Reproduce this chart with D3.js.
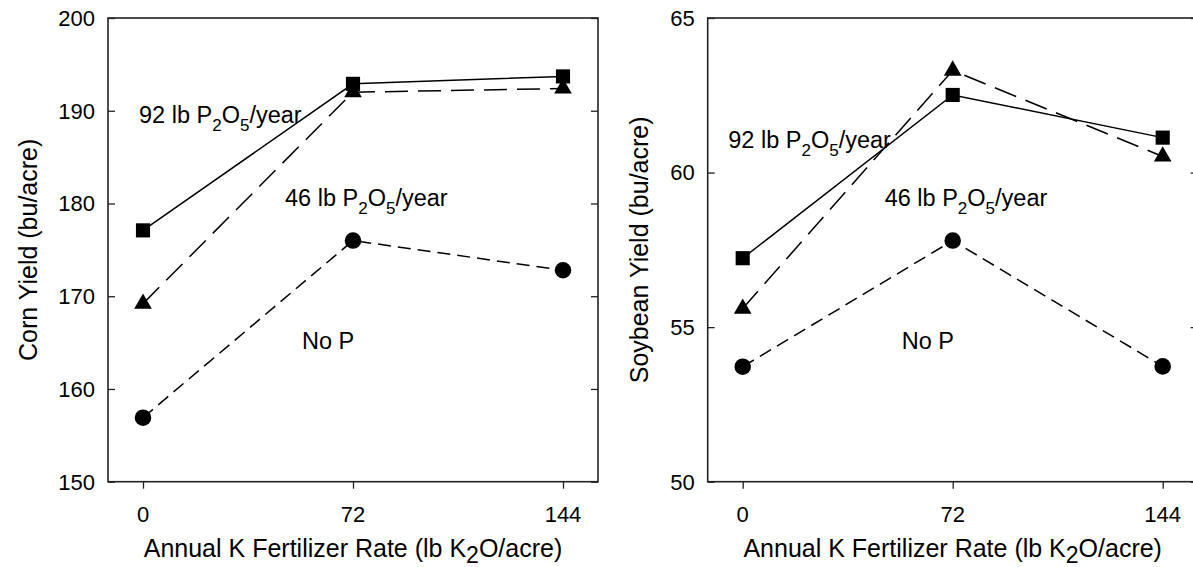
<!DOCTYPE html>
<html>
<head>
<meta charset="utf-8">
<script src="https://cdn.jsdelivr.net/npm/d3@7"></script>
<style>
  body { margin: 0; background: #fff; }
  text { font-family: "Liberation Sans", Arial, sans-serif; fill: #000; }
</style>
</head>
<body>
<svg id="chart" width="1193" height="567"></svg>
<script>
// K rates on the x axis
var kRates = [0, 72, 144];

// corn yield (bu/acre)
var corn92P = [177.1, 192.9, 193.7];
var corn46P = [169.2, 192.0, 192.4];
var cornNoP = [156.9, 176.0, 172.8];

// soybean yield (bu/acre)
var soy92P = [57.23, 62.51, 61.13];
var soy46P = [55.6, 63.3, 60.52];
var soyNoP = [53.72, 57.8, 53.73];

var cornTicks = [150, 160, 170, 180, 190, 200];
var soyTicks = [50, 55, 60, 65];

var svg = d3.select("#chart");

var plotTop = 18, plotBottom = 481.7, plotW = 490;
var tickFont = 22, titleFont = 25, noteFont = 23.5;

var seriesStyle = [
  { name: "92", symbol: d3.symbolSquare, size: 200, dash: null },
  { name: "46", symbol: d3.symbolTriangle, size: 135, dash: "23,10" },
  { name: "noP", symbol: d3.symbolCircle, size: 215, dash: "13,7" }
];

function drawPanel(left, yDomain, yTicks, series, yTitle, titleX, notes) {
  var g = svg.append("g");

  var x = d3.scaleLinear().domain([-12, 156]).range([left, left + plotW]);
  var y = d3.scaleLinear().domain(yDomain).range([plotBottom, plotTop]);

  // frame
  g.append("rect")
    .attr("x", left).attr("y", plotTop)
    .attr("width", plotW).attr("height", plotBottom - plotTop)
    .attr("fill", "none").attr("stroke", "#222").attr("stroke-width", 1.6);

  // left axis, ticks inside
  var leftAxis = g.append("g")
    .attr("transform", `translate(${left},0)`)
    .call(d3.axisRight(y).tickValues(yTicks).tickSize(7).tickFormat(""));
  leftAxis.select(".domain").remove();
  leftAxis.selectAll("line").attr("stroke", "#222").attr("stroke-width", 1.3);

  // right side ticks, inside
  var rightAxis = g.append("g")
    .attr("transform", `translate(${left + plotW},0)`)
    .call(d3.axisLeft(y).tickValues(yTicks).tickSize(7).tickFormat(""));
  rightAxis.select(".domain").remove();
  rightAxis.selectAll("line").attr("stroke", "#222").attr("stroke-width", 1.3);

  // y tick labels
  g.selectAll(".ylab")
    .data(yTicks)
    .enter()
    .append("text")
    .attr("x", left - 13)
    .attr("y", d => y(d))
    .attr("dy", "0.36em")
    .attr("text-anchor", "end")
    .style("font-size", tickFont + "px")
    .text(d => d);

  // bottom axis, ticks outside
  var bottomAxis = g.append("g")
    .attr("transform", `translate(0,${plotBottom})`)
    .call(d3.axisBottom(x).tickValues(kRates).tickSize(7).tickFormat(""));
  bottomAxis.select(".domain").remove();
  bottomAxis.selectAll("line").attr("stroke", "#222").attr("stroke-width", 1.3);

  g.selectAll(".xlab")
    .data(kRates)
    .enter()
    .append("text")
    .attr("x", d => x(d))
    .attr("y", 522)
    .attr("text-anchor", "middle")
    .style("font-size", tickFont + "px")
    .text(d => d);

  // x title
  var xt = g.append("text")
    .attr("x", x(72))
    .attr("y", 556.5)
    .attr("text-anchor", "middle")
    .style("font-size", titleFont + "px");
  xt.append("tspan").text("Annual K Fertilizer Rate (lb K");
  xt.append("tspan").attr("dy", 6).style("font-size", "23px").text("2");
  xt.append("tspan").attr("dy", -6).text("O/acre)");

  // y title
  g.append("text")
    .attr("transform", `translate(${titleX},${(plotTop + plotBottom) / 2}) rotate(-90)`)
    .attr("text-anchor", "middle")
    .style("font-size", titleFont + "px")
    .text(yTitle);

  // lines and markers
  series.forEach(function(vals, i) {
    var st = seriesStyle[i];
    var pts = kRates.map((k, j) => [k, vals[j]]);
    var line = d3.line().x(d => x(d[0])).y(d => y(d[1]));

    g.append("path")
      .attr("d", line(pts))
      .attr("fill", "none")
      .attr("stroke", "#000")
      .attr("stroke-width", 1.5)
      .attr("stroke-dasharray", st.dash);

    g.selectAll(".m" + i)
      .data(pts)
      .enter()
      .append("path")
      .attr("transform", d => `translate(${x(d[0])},${y(d[1])})`)
      .attr("d", d3.symbol().type(st.symbol).size(st.size))
      .attr("fill", "#000");
  });

  // annotations
  notes.forEach(function(n) {
    var t = g.append("text")
      .attr("x", left + n.dx)
      .attr("y", n.y)
      .style("font-size", noteFont + "px");
    if (n.p) {
      t.append("tspan").text(n.p + " lb P");
      t.append("tspan").attr("dy", 8).style("font-size", "17px").text("2");
      t.append("tspan").attr("dy", -8).text("O");
      t.append("tspan").attr("dy", 8).style("font-size", "17px").text("5");
      t.append("tspan").attr("dy", -8).text("/year");
    } else {
      t.text("No P");
    }
  });
}

drawPanel(108, [150, 200], cornTicks, [corn92P, corn46P, cornNoP],
  "Corn Yield (bu/acre)", 37,
  [{ p: "92", dx: 31, y: 122.7 }, { p: "46", dx: 177, y: 206 }, { p: null, dx: 194, y: 349 }]);

drawPanel(707.7, [50, 65], soyTicks, [soy92P, soy46P, soyNoP],
  "Soybean Yield (bu/acre)", 648,
  [{ p: "92", dx: 20.6, y: 147.7 }, { p: "46", dx: 177, y: 206 }, { p: null, dx: 194, y: 349 }]);
</script>
</body>
</html>
